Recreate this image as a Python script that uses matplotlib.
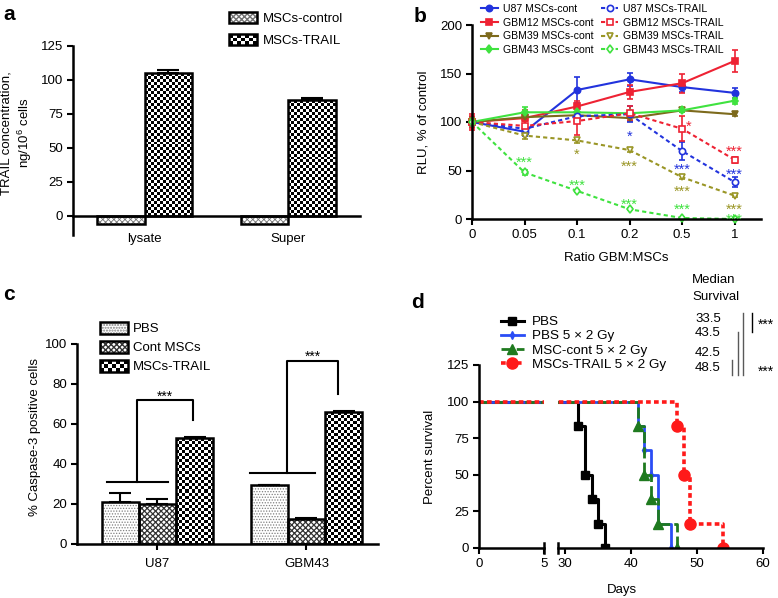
import numpy as np
import matplotlib
matplotlib.use('Agg')
import matplotlib.pyplot as plt
from matplotlib.lines import Line2D
from matplotlib.patches import Rectangle
from matplotlib.image import BboxImage
from matplotlib.transforms import Bbox, TransformedBbox
from matplotlib.colors import Normalize
from matplotlib.legend_handler import HandlerBase

plt.rcParams['font.family'] = ['Liberation Sans', 'DejaVu Sans']
plt.rcParams['mathtext.fontset'] = 'custom'
plt.rcParams['mathtext.rm'] = 'Liberation Sans'

W, H = 778, 598

# ---- panel a: TRAIL concentration
a_groups = ['lysate', 'Super']
a_control = [-6, -6]
a_trail = [105, 85]
a_trail_err = [2, 1.5]

# ---- panel b: RLU vs ratio
b_ratios = ['0', '0.05', '0.1', '0.2', '0.5', '1']
u87_cont = [100, 90, 133, 144, 136, 130]
u87_cont_err = [5, 4, 13, 7, 5, 5]
gbm12_cont = [100, 104, 116, 131, 140, 163]
gbm12_cont_err = [8, 8, 6, 7, 10, 11]
gbm39_cont = [100, 105, 107, 104, 112, 108]
gbm39_cont_err = [5, 4, 3, 3, 2, 2]
gbm43_cont = [100, 110, 110, 109, 112, 122]
gbm43_cont_err = [4, 5, 3, 2, 2, 3]
u87_trail = [100, 93, 106, 108, 70, 38]
u87_trail_err = [4, 5, 4, 8, 9, 5]
gbm12_trail = [100, 96, 101, 109, 93, 61]
gbm12_trail_err = [6, 5, 14, 7, 13, 3]
gbm39_trail = [100, 86, 81, 71, 43, 24]
gbm39_trail_err = [4, 4, 3, 2, 2, 1]
gbm43_trail = [100, 48, 29, 10, 1, 0]
gbm43_trail_err = [3, 3, 1, 1, 1, 1]
# significance marks (ratio index, height, text)
u87_stars = [(3, 89, '*'), (4, 55, '***'), (5, 50, '***')]
gbm12_stars = [(4.13, 100, '*'), (5, 74, '***')]
gbm39_stars = [(2, 71, '*'), (3, 58, '***'), (4, 33, '***'), (5, 14, '***')]
gbm43_stars = [(1, 62, '***'), (2, 39, '***'), (3, 19, '***'), (4, 14, '***'), (5, 4, '***')]

# ---- panel c: caspase-3
c_groups = ['U87', 'GBM43']
c_pbs = [21, 29.5]
c_pbs_err = [4.5, 0]
c_cont = [19.8, 12.3]
c_cont_err = [2.8, 0.5]
c_trail = [53, 66]
c_trail_err = [0.3, 0.5]

# ---- panel d: survival (event days and survival after each event)
pbs_days = [0, 32, 33, 34, 35, 36]
pbs_surv = [100, 83.3, 50, 33.3, 16.7, 0]
pbs_rt_days = [0, 41, 42, 43, 44, 46]
pbs_rt_surv = [100, 83.3, 66.7, 50, 16.7, 0]
cont_rt_days = [0, 41, 42, 43, 44, 47]
cont_rt_surv = [100, 83.3, 50, 33.3, 16.7, 0]
trail_rt_days = [0, 47, 48, 49, 54]
trail_rt_surv = [100, 83.3, 50, 16.7, 0]
median_labels = ['33.5', '43.5', '42.5', '48.5']

fig = plt.figure(figsize=(W / 100, H / 100), dpi=100)
CELL = 3  # checker cell, px


def checker(ny, nx):
    return np.indices((ny, nx)).sum(axis=0) % 2


def px_axes(left, top, right, bottom):
    return fig.add_axes([left / W, 1 - bottom / H, (right - left) / W, (bottom - top) / H])


def fxy(x, y):
    return x / W, 1 - y / H


def style(ax):
    for s in ['top', 'right']:
        ax.spines[s].set_visible(False)
    for s in ['left', 'bottom']:
        ax.spines[s].set_linewidth(1.8)
    ax.tick_params(direction='out', length=4, width=1.5, labelsize=9.5, pad=3)


def hatched_bar(ax, x, h, w, hatch, hcolor, hlw):
    with plt.rc_context({'hatch.linewidth': hlw}):
        fill = ax.bar(x, h, w, facecolor='white', edgecolor=hcolor, hatch=hatch, linewidth=0)
    for b in fill:
        if hasattr(b, 'set_hatch_linewidth'):
            b.set_hatch_linewidth(hlw)
    edge = ax.bar(x, h, w, fill=False, edgecolor='black', linewidth=1.8, zorder=2)
    return (fill[0], edge[0])


def checker_bar(ax, x, h, w):
    # limits must already be fixed
    fill = ax.bar(x, h, w, facecolor='white', linewidth=0)
    for r in fill:
        x0, y0 = r.get_x(), r.get_y()
        x1, y1 = x0 + r.get_width(), y0 + r.get_height()
        p0 = ax.transData.transform((x0, y0))
        p1 = ax.transData.transform((x1, y1))
        nx = max(1, int(round(abs(p1[0] - p0[0]) / CELL)))
        ny = max(1, int(round(abs(p1[1] - p0[1]) / CELL)))
        ax.imshow(checker(ny, nx), extent=(x0, x1, min(y0, y1), max(y0, y1)), cmap='gray',
                  vmin=0, vmax=1, interpolation='nearest', aspect='auto', zorder=1.5)
    ax.bar(x, h, w, fill=False, edgecolor='black', linewidth=1.8, zorder=2)


class CheckerHandler(HandlerBase):
    def create_artists(self, legend, orig_handle, xdescent, ydescent, width, height, fontsize, trans):
        bb = TransformedBbox(Bbox.from_bounds(-xdescent, -ydescent, width, height), trans)
        img = BboxImage(bb, cmap='gray', norm=Normalize(0, 1), interpolation='nearest')
        img.set_data(checker(max(1, int(round(height / CELL))), max(1, int(round(width / CELL)))))
        rect = Rectangle((-xdescent, -ydescent), width, height, fill=False, ec='black', lw=1.8,
                         transform=trans)
        return [img, rect]


checker_handle = Rectangle((0, 0), 1, 1)


def ftext(x, y, s, **kw):
    fig.text(*fxy(x, y), s, ha=kw.pop('ha', 'center'), va=kw.pop('va', 'center'), **kw)


def stars(ax, x, y, s, color='black', fs=11):
    # place glyph centre (asterisks sit high in the em box) at (x, y)
    ax.annotate(s, (x, y), xytext=(0, -0.575 * fs), textcoords='offset points', ha='center',
                va='baseline', fontsize=fs, color=color)


# ================= a
ax = px_axes(73, 46, 360, 235)
style(ax)
ax.set_xlim(-0.5, 1.5)
ax.set_ylim(-14, 125)
xa = np.arange(len(a_groups))
wa = 0.33
h_ctrl = hatched_bar(ax, xa - wa / 2, a_control, wa, 'xxxxxx', '0.45', 0.6)
checker_bar(ax, xa + wa / 2, a_trail, wa)
ax.errorbar(xa + wa / 2, a_trail, yerr=[np.zeros(len(a_trail)), a_trail_err], fmt='none',
            ecolor='black', elinewidth=1.5, capsize=8, capthick=1.5)
ax.spines['bottom'].set_position(('data', 0))
ax.set_yticks(np.arange(0, 126, 25))
ax.set_xticks(xa, a_groups)
ax.tick_params(axis='x', length=0, pad=12)
ax.legend([h_ctrl, checker_handle], ['MSCs-control', 'MSCs-TRAIL'], loc='upper left',
          handler_map={checker_handle: CheckerHandler()},
          bbox_to_anchor=fxy(229, 12), bbox_transform=fig.transFigure, frameon=False,
          fontsize=9.5, handlelength=2.1, handleheight=0.9, handletextpad=0.45,
          labelspacing=0.65, borderpad=0, borderaxespad=0)
ftext(17, 133, 'TRAIL concentration,\nng/10$^6$ cells', rotation=90, fontsize=9.5, linespacing=1.25)
ftext(9, 14, 'a', fontsize=15, fontweight='bold')

# ================= b
ax = px_axes(472, 25, 761, 219)
style(ax)
xb = np.arange(len(b_ratios))
blue, red, olive, olive2, green = '#2233dd', '#ee2233', '#7d6a1c', '#9a9626', '#3fe23f'
dash = (0, (2, 1.5))
series = [
    ('U87 MSCs-cont', u87_cont, u87_cont_err, blue, 'o', '-', True),
    ('GBM12 MSCs-cont', gbm12_cont, gbm12_cont_err, red, 's', '-', True),
    ('GBM39 MSCs-cont', gbm39_cont, gbm39_cont_err, olive, 'v', '-', True),
    ('GBM43 MSCs-cont', gbm43_cont, gbm43_cont_err, green, 'd', '-', True),
    ('U87 MSCs-TRAIL', u87_trail, u87_trail_err, blue, 'o', dash, False),
    ('GBM12 MSCs-TRAIL', gbm12_trail, gbm12_trail_err, red, 's', dash, False),
    ('GBM39 MSCs-TRAIL', gbm39_trail, gbm39_trail_err, olive2, 'v', dash, False),
    ('GBM43 MSCs-TRAIL', gbm43_trail, gbm43_trail_err, green, 'd', dash, False),
]
handles, labels = [], []
for name, vals, err, col, mk, ls, filled in series:
    cont = ax.errorbar(xb, vals, yerr=err, color=col, marker=mk, ls=ls, lw=1.5, ms=4.5,
                       mfc=col if filled else 'white', mec=col, mew=1.2, capsize=2.5,
                       elinewidth=1.2, capthick=1.2, clip_on=False)
    handles.append(cont[0])
    labels.append(name)
for marks, col in [(u87_stars, blue), (gbm12_stars, red), (gbm39_stars, olive2), (gbm43_stars, green)]:
    for xi, yv, s in marks:
        stars(ax, xi, yv, s, col, 10.5)
ax.set_xlim(0, 5.5)
ax.set_ylim(0, 200)
ax.set_yticks([0, 50, 100, 150, 200])
ax.set_xticks(xb, b_ratios)
ax.legend(handles, labels, ncol=2, loc='upper left', bbox_to_anchor=fxy(481, 4),
          bbox_transform=fig.transFigure, frameon=False, fontsize=7.6, handlelength=1.6,
          handletextpad=0.5, columnspacing=0.7, labelspacing=0.35, borderpad=0, borderaxespad=0)
ftext(616, 258, 'Ratio GBM:MSCs', fontsize=9.5)
ftext(423, 122, 'RLU, % of control', rotation=90, fontsize=9.5)
ftext(420, 16, 'b', fontsize=15, fontweight='bold')

# ================= c
ax = px_axes(77, 344, 378, 544)
style(ax)
ax.set_xlim(-0.54, 1.48)
ax.set_ylim(0, 100)
xc = np.arange(len(c_groups))
wc = 0.25
h_pbs = hatched_bar(ax, xc - wc, c_pbs, wc, '......', '0.5', 0.6)
h_cont = hatched_bar(ax, xc, c_cont, wc, 'xxxxxx', '0.2', 0.9)
checker_bar(ax, xc + wc, c_trail, wc)
for off, vals, err in [(-wc, c_pbs, c_pbs_err), (0, c_cont, c_cont_err), (wc, c_trail, c_trail_err)]:
    ax.errorbar(xc + off, vals, yerr=[np.zeros(len(vals)), err], fmt='none', ecolor='black',
                elinewidth=1.5, capsize=8, capthick=1.5)
ax.plot([-0.34, 0.07], [31, 31], color='black', lw=1.5)
ax.plot([-0.134, -0.134, 0.24, 0.24], [31, 72, 72, 62], color='black', lw=1.5)
stars(ax, 0.05, 75.5, '***', fs=10)
ax.plot([0.624, 1.06], [35.7, 35.7], color='black', lw=1.5)
ax.plot([0.87, 0.87, 1.21, 1.21], [35.7, 91.5, 91.5, 75], color='black', lw=1.5)
stars(ax, 1.04, 95.5, '***', fs=10)
ax.set_yticks(np.arange(0, 101, 20))
ax.set_xticks(xc, c_groups)
ax.tick_params(axis='x', pad=6)
ax.legend([h_pbs, h_cont, checker_handle], ['PBS', 'Cont MSCs', 'MSCs-TRAIL'], loc='upper left',
          handler_map={checker_handle: CheckerHandler()},
          bbox_to_anchor=fxy(100, 322), bbox_transform=fig.transFigure, frameon=False,
          fontsize=9.5, handlelength=2.1, handleheight=1.0, handletextpad=0.4,
          labelspacing=0.42, borderpad=0, borderaxespad=0)
ftext(35, 437, '% Caspase-3 positive cells', rotation=90, fontsize=9.5)
ftext(9, 294, 'c', fontsize=15, fontweight='bold')

# ================= d
ax1 = px_axes(479, 365, 544, 548)
ax2 = px_axes(558, 365, 763, 548)
style(ax1)
style(ax2)
ax2.spines['left'].set_visible(False)
ax2.tick_params(axis='y', left=False, labelleft=False)
curves = [
    ('PBS', pbs_days, pbs_surv, 'black', 's', '-', 2.2, 6),
    ('PBS 5 × 2 Gy', pbs_rt_days, pbs_rt_surv, '#2a4df5', 'd', '-', 2.0, 4),
    ('MSC-cont 5 × 2 Gy', cont_rt_days, cont_rt_surv, '#1f7a1f', '^', (0, (4, 1.5)), 2.0, 7),
    ('MSCs-TRAIL 5 × 2 Gy', trail_rt_days, trail_rt_surv, '#ff1a1a', 'o', (0, (1.3, 0.9)), 2.6, 8),
]
dh = []
for name, days, surv, col, mk, ls, lw, ms in curves:
    for a in (ax1, ax2):
        ln, = a.plot(days, surv, drawstyle='steps-post', color=col, ls=ls, lw=lw, marker=mk,
                     ms=ms, mfc=col, mec=col, markevery=slice(1, None))
    dh.append(ln)
for a in (ax1, ax2):
    a.set_ylim(0, 125)
ax1.set_xlim(0, 5)
ax2.set_xlim(28.9, 60)
ax1.set_yticks(np.arange(0, 126, 25))
ax1.set_xticks([0, 5])
ax2.set_xticks([30, 40, 50, 60])
ax1.plot([5, 5], [-3.5, 3.5], color='black', lw=1.8, clip_on=False)
ax2.plot([28.9, 28.9], [-3.5, 3.5], color='black', lw=1.8, clip_on=False)
ax2.legend(dh, [c[0] for c in curves], loc='upper left', bbox_to_anchor=fxy(501, 316),
           bbox_transform=fig.transFigure, frameon=False, fontsize=9.7, handlelength=1.7,
           handletextpad=0.6, labelspacing=0.12, borderpad=0, borderaxespad=0, numpoints=1)
ftext(622, 590, 'Days', fontsize=9.5)
ftext(430, 457, 'Percent survival', rotation=90, fontsize=9.5)
ftext(418, 302, 'd', fontsize=15, fontweight='bold')

ftext(692, 280, 'Median', ha='left', fontsize=9.5)
ftext(692, 297, 'Survival', ha='left', fontsize=9.5)
for lab, yy in zip(median_labels, [319, 333, 353, 368]):
    ftext(695, yy, lab, ha='left', fontsize=9.5)
for xx, y1, y2, col in [(732, 360, 375, '0.35'), (738, 332, 375, '0.35'),
                        (743, 313, 375, '0.35'), (752, 313, 332, 'black')]:
    fig.add_artist(Line2D([xx / W, xx / W], [1 - y1 / H, 1 - y2 / H], color=col, lw=1.0))
ftext(766, 321 + 8, '***', fontsize=10, va='baseline')
ftext(766, 368 + 8, '***', fontsize=10, va='baseline')

fig.savefig('out.png', dpi=100)
